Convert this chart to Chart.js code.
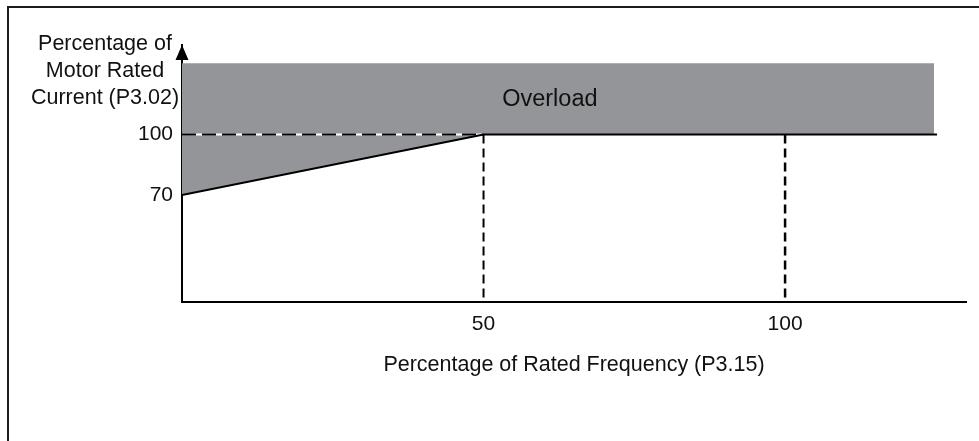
<!DOCTYPE html>
<html>
<head>
<meta charset="utf-8">
<script src="https://cdn.jsdelivr.net/npm/chart.js@4/dist/chart.umd.min.js"></script>
<style>
  html, body { margin: 0; padding: 0; background: #fff; }
  #wrap { position: relative; width: 979px; height: 441px; overflow: hidden; }
  #frame { position: absolute; left: 7px; top: 6px; width: 990px; height: 450px;
           border-top: 2px solid #1c1c1c; border-left: 2px solid #1c1c1c; pointer-events: none; }
  canvas { position: absolute; left: 0; top: 0; }
</style>
</head>
<body>
<div id="wrap">
  <canvas id="c" width="979" height="441"></canvas>
  <div id="frame"></div>
</div>
<script>
// ---- data ----
const limitFreq = [0, 50, 125.2];          // % of rated frequency
const limitCurrent = [70, 100, 100];       // % of motor rated current
const overloadFreq = [0, 50, 124.7];
const overloadLower = [70, 100, 100];
const overloadUpper = [135.4, 135.4, 135.4];
const refFreq = [0, 50];                   // dashed 100% reference
const refCurrent = [100, 100];
const markerFreqs = [50, 100];             // vertical dashed markers
const xTickValues = [50, 100];
const yTickValues = [70, 100];
const xRange = [0, 130];
const yRange = [17, 144.4];
const yTitleLines = ['Percentage of', 'Motor Rated', 'Current (P3.02)'];
const xTitle = 'Percentage of Rated Frequency (P3.15)';
const regionLabel = 'Overload';
const regionLabelAt = [61, 117.5];

const FONT = '"Liberation Sans", Arial, Helvetica, sans-serif';
const pts = (xs, ys) => xs.map((x, i) => ({x, y: ys[i]}));

const datasets = [
  { data: pts(overloadFreq, overloadUpper), fill: 1, backgroundColor: '#939598',
    borderWidth: 0, borderColor: 'rgba(0,0,0,0)', pointRadius: 0, order: 10 },
  { data: pts(overloadFreq, overloadLower), fill: false,
    borderWidth: 0, borderColor: 'rgba(0,0,0,0)', pointRadius: 0, order: 9 },
  { data: pts(refFreq, refCurrent), borderColor: '#ffffff', borderWidth: 2, pointRadius: 0, order: 6 },
  { data: pts(refFreq, refCurrent), borderColor: '#000000', borderWidth: 2, borderDash: [14, 6], pointRadius: 0, order: 5 },
  { data: pts(limitFreq, limitCurrent), borderColor: '#000000', borderWidth: 2, pointRadius: 0, order: 3 },
  ...markerFreqs.map((f, i) => ({
    data: [{x: f, y: refCurrent[0]}, {x: f, y: yRange[0]}],
    borderColor: '#000000', borderWidth: i === 0 ? 2 : 2.5, borderDash: [9, 5], pointRadius: 0, order: 4
  }))
];

const decorPlugin = {
  id: 'decor',
  afterDraw(chart) {
    const ctx = chart.ctx;
    const xs = chart.scales.x, ys = chart.scales.y;
    const ax = xs.getPixelForValue(xRange[0]);
    const top = ys.top;
    ctx.save();
    // arrow head on y axis
    ctx.fillStyle = '#000';
    ctx.beginPath();
    ctx.moveTo(ax, top);
    ctx.lineTo(ax - 6.5, top + 15);
    ctx.lineTo(ax + 6.5, top + 15);
    ctx.closePath();
    ctx.fill();
    // y title (horizontal, stacked)
    ctx.font = '21.5px ' + FONT;
    ctx.textAlign = 'center';
    ctx.textBaseline = 'alphabetic';
    ctx.fillStyle = '#111';
    yTitleLines.forEach((t, i) => ctx.fillText(t, 105, 50 + i * 27));
    // region label
    ctx.font = '23.5px ' + FONT;
    ctx.textBaseline = 'middle';
    ctx.fillText(regionLabel, xs.getPixelForValue(regionLabelAt[0]), ys.getPixelForValue(regionLabelAt[1]));
    ctx.restore();
  }
};

new Chart(document.getElementById('c'), {
  type: 'line',
  data: { datasets },
  plugins: [decorPlugin],
  options: {
    responsive: false,
    animation: false,
    events: [],
    layout: { padding: { top: 45, right: 13, left: 0, bottom: 0 } },
    plugins: { legend: { display: false }, tooltip: { enabled: false } },
    elements: { line: { tension: 0 } },
    scales: {
      x: {
        type: 'linear', min: xRange[0], max: xRange[1],
        afterBuildTicks: s => { s.ticks = xTickValues.map(v => ({value: v})); },
        afterFit: s => { s.height = 139; },
        grid: { display: false, drawTicks: false },
        border: { display: true, color: '#000', width: 2 },
        ticks: { color: '#111', font: { family: FONT, size: 21 }, padding: 10, autoSkip: false, maxRotation: 0 },
        title: { display: true, text: xTitle, color: '#111', font: { family: FONT, size: 21.5, lineHeight: 1.2 },
                 padding: { top: 0, bottom: 63 } }
      },
      y: {
        type: 'linear', min: yRange[0], max: yRange[1],
        afterBuildTicks: s => { s.ticks = yTickValues.map(v => ({value: v})); },
        afterFit: s => { s.width = 182; },
        grid: { display: false, drawTicks: false },
        border: { display: true, color: '#000', width: 2 },
        ticks: { color: '#111', font: { family: FONT, size: 21 }, padding: 9, autoSkip: false }
      }
    }
  }
});
</script>
</body>
</html>
